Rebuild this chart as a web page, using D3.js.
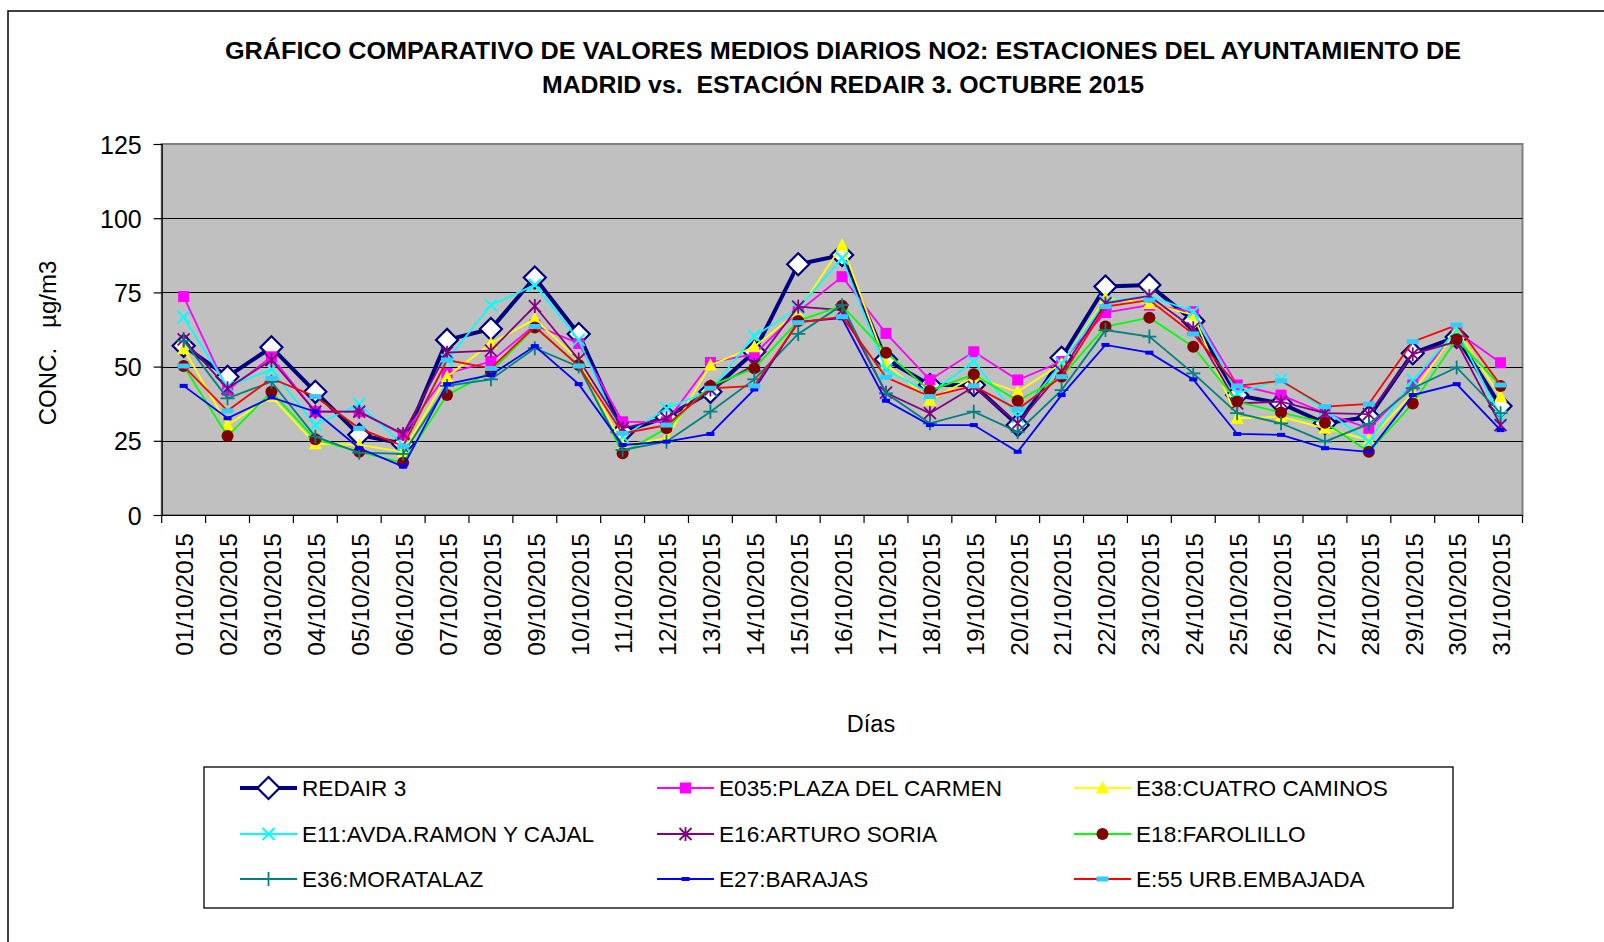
<!DOCTYPE html>
<html lang="es">
<head>
<meta charset="utf-8" />
<title>NO2 octubre 2015</title>
<style>
html,body{margin:0;background:#fff}
svg{display:block;font-family:"Liberation Sans",Arial,sans-serif}
.axis text{font-size:25px;fill:#000}
.axis path,.axis line{stroke:#000;stroke-width:1.2}
</style>
<script src="https://cdn.jsdelivr.net/npm/d3@7/dist/d3.min.js"></script>
</head>
<body>
<div id="chart"></div>
<script>
/* ---------------- data ---------------- */
const dias = ["01/10/2015","02/10/2015","03/10/2015","04/10/2015","05/10/2015","06/10/2015","07/10/2015",
  "08/10/2015","09/10/2015","10/10/2015","11/10/2015","12/10/2015","13/10/2015","14/10/2015","15/10/2015",
  "16/10/2015","17/10/2015","18/10/2015","19/10/2015","20/10/2015","21/10/2015","22/10/2015","23/10/2015",
  "24/10/2015","25/10/2015","26/10/2015","27/10/2015","28/10/2015","29/10/2015","30/10/2015","31/10/2015"];
const yTicks = [0, 25, 50, 75, 100, 125];

const redair3 = [57, 46.6, 56.5, 41.5, 27, 24, 59, 62.7, 80, 61, 28, 33, 41.5, 55, 84.5, 87.6, 52.4, 43.8, 43.8, 30.3, 53, 77, 77.5, 65.4, 40.4, 37.6, 30.9, 33, 54.5, 60, 36.7];
const e035    = [73.6, 42, 53.3, 34.8, 34.8, 27, 47.7, 51.7, 64, 57.8, 31.4, 31.4, 51.4, 54.2, 68.5, 80.3, 61.2, 45.5, 55, 45.5, 51.7, 68.2, 70.7, 68.5, 43.8, 40.4, 34.3, 29.2, 43.8, 61.8, 51.3];
const e38     = [56, 30.3, 39.9, 24, 23.6, 21.3, 46.6, 57.8, 66, 52.2, 23.6, 25.8, 50.5, 56.7, 68.5, 91, 51, 38.7, 46.5, 41.5, 51, 73, 71.3, 67.4, 32.6, 33.1, 29.2, 25.3, 41, 62.3, 39.9];
const e11     = [66.6, 43.2, 49, 30.3, 37.4, 23.6, 52.2, 70.7, 77.5, 59, 26.4, 35.9, 42, 60.3, 69.6, 86.5, 48.9, 41, 51.7, 33.1, 51, 71.9, 73.8, 68.5, 41, 45.7, 35.4, 24.7, 45.5, 62.3, 33.1];
const e16     = [59.2, 42.7, 52.2, 34.8, 34.8, 27.3, 54.7, 55.4, 70.4, 52.4, 29.2, 32.6, 42.3, 50.5, 70.2, 69, 41.2, 34.3, 43.2, 30.9, 48.3, 71.3, 73.8, 62.9, 37.6, 38.2, 34.3, 34, 54.2, 58.4, 30.3];
const e18     = [50.2, 26.6, 41.5, 25.5, 21.3, 17.6, 40.4, 48.3, 63.2, 50.5, 20.8, 29.2, 43.5, 49.4, 65.4, 70.5, 54.7, 41.9, 47.4, 38.5, 46.6, 63.5, 66.5, 56.7, 38.2, 34.5, 31.1, 21.3, 37.6, 59.2, 43.5];
const e36     = [58.7, 39.3, 44.9, 26.4, 21, 20.6, 43.5, 45.7, 56.2, 50, 21.9, 24.7, 34.8, 45.7, 61, 70.7, 41, 30.9, 34.8, 28, 42.1, 62.3, 60.1, 47.7, 34.3, 30.9, 24.7, 30.7, 42.7, 49.7, 34.3];
const e27     = [43.5, 32.6, 39.6, 34.8, 22.5, 16.3, 44.1, 47.2, 56.9, 44.1, 23.6, 24.7, 27.3, 42.3, 65.1, 66.3, 38.5, 30.3, 30.3, 21.3, 40.4, 57.3, 54.7, 45.7, 27.3, 27, 22.5, 21.3, 40.4, 44.1, 28.6];
const e55     = [50.2, 35.1, 46, 39.9, 29.2, 23.2, 52.2, 49.4, 63.5, 50.2, 27.5, 30.3, 42.7, 43.5, 64.8, 66.8, 46.4, 39.9, 43.5, 35.6, 46.6, 70.2, 72.4, 61, 43.5, 45.2, 36.5, 37.4, 58.4, 64, 43.8];

const seriesNames = ["REDAIR 3","E035:PLAZA DEL CARMEN","E38:CUATRO CAMINOS","E11:AVDA.RAMON Y CAJAL",
  "E16:ARTURO SORIA","E18:FAROLILLO","E36:MORATALAZ","E27:BARAJAS","E:55 URB.EMBAJADA"];
const seriesValues = [redair3, e035, e38, e11, e16, e18, e36, e27, e55];

// look of each series (line colour, width, marker)
const styles = [
  {line:"#000080", w:4,   mark:"diamond", fill:"#fff",    stroke:"#000080"},
  {line:"#ff00ff", w:1.8, mark:"square",  fill:"#ff00ff", stroke:"#ff00ff"},
  {line:"#ffff00", w:1.8, mark:"triangle",fill:"#ffff00", stroke:"#ffff00"},
  {line:"#00ffff", w:1.8, mark:"x",       fill:"none",    stroke:"#00ffff"},
  {line:"#800080", w:1.8, mark:"star",    fill:"none",    stroke:"#800080"},
  {line:"#00ff00", w:1.8, mark:"circle",  fill:"#800000", stroke:"#800000"},
  {line:"#008080", w:1.8, mark:"plus",    fill:"none",    stroke:"#008080"},
  {line:"#0000ff", w:1.8, mark:"dash",    fill:"#0000ff", stroke:"none"},
  {line:"#ff0000", w:1.8, mark:"bigdash", fill:"#33ccff", stroke:"none"}
];

/* ---------------- setup ---------------- */
const W = 1604, H = 942;
const svg = d3.select("#chart").append("svg").attr("width", W).attr("height", H);

// outer chart frame (runs off the right and bottom edge)
svg.append("rect").attr("x", 8).attr("y", 11).attr("width", W + 20).attr("height", H + 20)
   .attr("fill", "#fff").attr("stroke", "#000").attr("stroke-width", 1.5);

const plot = {left: 161.7, right: 1522.5, top: 144, bottom: 515};

const x = d3.scaleBand().domain(dias).range([plot.left, plot.right]).padding(0);
const y = d3.scaleLinear().domain([0, 125]).range([plot.bottom, plot.top]);
const cx = d => x(d) + x.bandwidth() / 2;

// plot background
svg.append("rect").attr("x", plot.left).attr("y", plot.top)
   .attr("width", plot.right - plot.left).attr("height", plot.bottom - plot.top)
   .attr("fill", "#c0c0c0").attr("stroke", "#808080").attr("stroke-width", 2);

// gridlines
svg.append("g").selectAll("line").data(yTicks.filter(t => t > 0 && t < 125)).join("line")
   .attr("x1", plot.left).attr("x2", plot.right)
   .attr("y1", d => Math.round(y(d)) + 0.5).attr("y2", d => Math.round(y(d)) + 0.5)
   .attr("stroke", "#000").attr("stroke-width", 1);

// y axis
svg.append("g").attr("class", "axis").attr("transform", `translate(${plot.left},0)`)
   .call(d3.axisLeft(y).tickValues(yTicks).tickSize(8).tickPadding(12))
   .call(g => g.selectAll(".tick text").attr("dy", "0.36em"));

// x axis: labels centred, tick marks between categories
const xg = svg.append("g").attr("class", "axis").attr("transform", `translate(0,${plot.bottom})`)
   .call(d3.axisBottom(x).tickSize(0).tickSizeOuter(0).tickFormat(""));
xg.selectAll(".bound").data(dias.map(d => x(d)).concat([plot.right])).join("line")
   .attr("class", "bound").attr("x1", d => d).attr("x2", d => d).attr("y1", 0).attr("y2", 8)
   .attr("stroke", "#000").attr("stroke-width", 1.2);
xg.selectAll(".lbl").data(dias).join("text")
   .attr("class", "lbl")
   .attr("transform", d => `translate(${cx(d) + 1},18) rotate(-90)`)
   .attr("text-anchor", "end").attr("dy", "0.36em")
   .style("font-size", "24.5px")
   .text(d => d);

/* ---------------- series ---------------- */
function marker(sel, type, st) {
  const s = 6;
  if (type === "diamond")
    sel.append("path").attr("d", `M0,${-11}L11,0L0,11L-11,0Z`).attr("fill", st.fill).attr("stroke", st.stroke).attr("stroke-width", 2.2);
  else if (type === "square")
    sel.append("rect").attr("x", -5.5).attr("y", -5.5).attr("width", 11).attr("height", 11).attr("fill", st.fill);
  else if (type === "triangle")
    sel.append("path").attr("d", "M0,-7L6.5,5.5L-6.5,5.5Z").attr("fill", st.fill);
  else if (type === "x")
    sel.append("path").attr("d", `M${-s},${-s}L${s},${s}M${-s},${s}L${s},${-s}`).attr("stroke", st.stroke).attr("stroke-width", 2);
  else if (type === "star")
    sel.append("path").attr("d", `M${-s},${-s}L${s},${s}M${-s},${s}L${s},${-s}M0,-7L0,7`).attr("stroke", st.stroke).attr("stroke-width", 1.8);
  else if (type === "plus")
    sel.append("path").attr("d", "M-7,0L7,0M0,-7L0,7").attr("stroke", st.stroke).attr("stroke-width", 1.8);
  else if (type === "circle")
    sel.append("circle").attr("r", 6).attr("fill", st.fill);
  else if (type === "dash")
    sel.append("rect").attr("x", -4).attr("y", -2).attr("width", 8).attr("height", 4).attr("fill", st.fill);
  else if (type === "bigdash")
    sel.append("rect").attr("x", -6).attr("y", -2.5).attr("width", 12).attr("height", 5).attr("fill", st.fill);
}

const line = d3.line().x((v, i) => cx(dias[i])).y(v => y(v));

seriesValues.forEach((vals, k) => {
  const st = styles[k];
  const g = svg.append("g");
  g.append("path").attr("d", line(vals)).attr("fill", "none")
   .attr("stroke", st.line).attr("stroke-width", st.w).attr("stroke-linejoin", "miter");
  g.selectAll("g.m").data(vals).join("g").attr("class", "m")
   .attr("transform", (v, i) => `translate(${cx(dias[i])},${y(v)})`)
   .each(function () { marker(d3.select(this), st.mark, st); });
});

/* ---------------- titles ---------------- */
const title = svg.append("g").attr("font-weight", "bold").attr("font-size", "24px").attr("text-anchor", "middle");
title.append("text").attr("x", 843).attr("y", 59).attr("textLength", 1236).attr("lengthAdjust", "spacingAndGlyphs")
   .text("GRÁFICO COMPARATIVO DE VALORES MEDIOS DIARIOS NO2: ESTACIONES DEL AYUNTAMIENTO DE");
title.append("text").attr("x", 843).attr("y", 93).attr("textLength", 602).attr("lengthAdjust", "spacingAndGlyphs")
   .style("white-space", "pre")
   .text("MADRID vs.  ESTACIÓN REDAIR 3. OCTUBRE 2015");

svg.append("text").attr("transform", "translate(56,343) rotate(-90)").attr("text-anchor", "middle")
   .attr("font-size", "24px").style("white-space", "pre").text("CONC.   µg/m3");

svg.append("text").attr("x", 871).attr("y", 732).attr("text-anchor", "middle")
   .attr("font-size", "23.5px").text("Días");

/* ---------------- legend ---------------- */
const leg = svg.append("g");
leg.append("rect").attr("x", 204).attr("y", 767).attr("width", 1249).attr("height", 141)
   .attr("fill", "#fff").attr("stroke", "#000").attr("stroke-width", 1.3);
const colX = [240, 657, 1074], rowY = [788, 834, 879];
seriesNames.forEach((name, k) => {
  const st = styles[k];
  const gx = colX[k % 3], gy = rowY[Math.floor(k / 3)];
  const item = leg.append("g").attr("transform", `translate(${gx},${gy})`);
  item.append("line").attr("x1", 0).attr("x2", 57).attr("stroke", st.line).attr("stroke-width", st.w);
  marker(item.append("g").attr("transform", "translate(28.5,0)"), st.mark, st);
  item.append("text").attr("x", 62).attr("dy", "0.36em").attr("font-size", "22.6px").text(name);
});
</script>
</body>
</html>
